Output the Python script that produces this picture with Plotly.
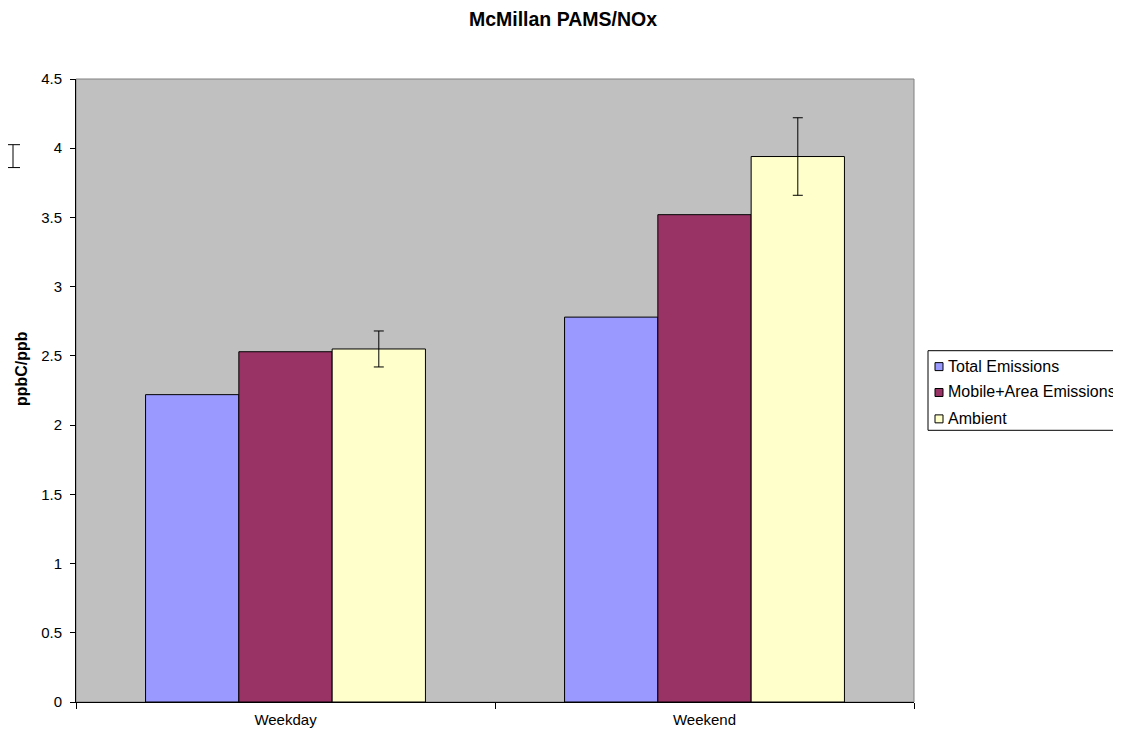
import plotly.graph_objects as go

categories = ["Weekday", "Weekend"]
series_names = ["Total Emissions", "Mobile+Area Emissions", "Ambient"]
total_emissions = [2.22, 2.78]
mobile_area = [2.53, 3.52]
ambient = [2.55, 3.94]
ambient_err = [0.13, 0.28]
colors = ["#9999FF", "#993366", "#FFFFCC"]

# page layout (the page body adds an 8px offset)
OFF = 8
W, H = 1121 - OFF, 740 - OFF
PL, PR, PT, PB = 76, 914, 79, 705  # plot area in page pixels


def px(X):
    return (X - PL) / (PR - PL)


def py(Y):
    return (PB - Y) / (PB - PT)


font = "Arial, Liberation Sans, sans-serif"
fig = go.Figure()
for name, vals, col in zip(series_names, [total_emissions, mobile_area, ambient], colors):
    kw = {}
    if name == "Ambient":
        kw["error_y"] = dict(type="data", array=ambient_err, visible=True,
                             color="black", thickness=1, width=5)
    fig.add_trace(go.Bar(x=categories, y=vals, name=name,
                         marker=dict(color=col, line=dict(color="black", width=1)), **kw))

fig.update_layout(
    width=W, height=H,
    margin=dict(l=PL - OFF, r=W - (PR - OFF), t=PT - OFF, b=H - (PB - OFF)),
    paper_bgcolor="white",
    plot_bgcolor="#C0C0C0",
    barmode="group",
    bargap=0.332,
    bargroupgap=0,
    font=dict(family=font, size=15, color="black"),
    title=dict(text="<b>McMillan PAMS/NOx</b>", x=(563 - OFF) / W, xref="container",
               xanchor="center", y=1 - (19 - OFF) / H, yref="container", yanchor="middle",
               font=dict(size=19.5, family=font)),
    showlegend=False,
    xaxis=dict(showgrid=False, showline=True, linecolor="black", linewidth=1,
               ticks="outside", tickson="boundaries", ticklen=6, tickcolor="black",
               tickfont=dict(size=15), zeroline=False, ticklabelstandoff=4),
    yaxis=dict(range=[0, 4.5], dtick=0.5, showgrid=False, showline=True,
               linecolor="black", linewidth=1, ticks="outside", ticklen=5,
               tickcolor="black", tickfont=dict(size=15), zeroline=False,
               ticklabelstandoff=5),
)

# y-axis title (placed as in the original, above the axis centre)
fig.add_annotation(text="<b>ppbC/ppb</b>", xref="paper", yref="paper",
                   x=px(21.5), y=py(370), xanchor="center", yanchor="middle",
                   textangle=-90, showarrow=False, font=dict(size=16, family=font))

# plot area border (gray on top/right)
fig.add_shape(type="rect", xref="paper", yref="paper", x0=0, y0=0, x1=1, y1=1,
              line=dict(color="#808080", width=1), layer="below")

# stray error-bar glyph at left
fig.add_shape(type="line", xref="paper", yref="paper", x0=px(13), x1=px(13),
              y0=py(145), y1=py(168), line=dict(color="black", width=1))
for yy in (145, 168):
    fig.add_shape(type="line", xref="paper", yref="paper", x0=px(7), x1=px(20),
                  y0=py(yy), y1=py(yy), line=dict(color="black", width=1))

# legend (drawn manually to match the original layout)
fig.add_shape(type="rect", xref="paper", yref="paper", x0=px(928), x1=px(1140),
              y0=py(432), y1=py(352), line=dict(color="black", width=1),
              fillcolor="white")
row_y = [368, 394, 420.5]
for name, col, yc in zip(series_names, colors, row_y):
    fig.add_shape(type="rect", xref="paper", yref="paper", x0=px(935), x1=px(943),
                  y0=py(yc + 4), y1=py(yc - 4), line=dict(color="black", width=1),
                  fillcolor=col)
    fig.add_annotation(text=name, xref="paper", yref="paper", x=px(946), y=py(yc - 0.5),
                       xanchor="left", yanchor="middle", showarrow=False,
                       font=dict(size=16, family=font, color="black"))

fig.write_html("out.html")
